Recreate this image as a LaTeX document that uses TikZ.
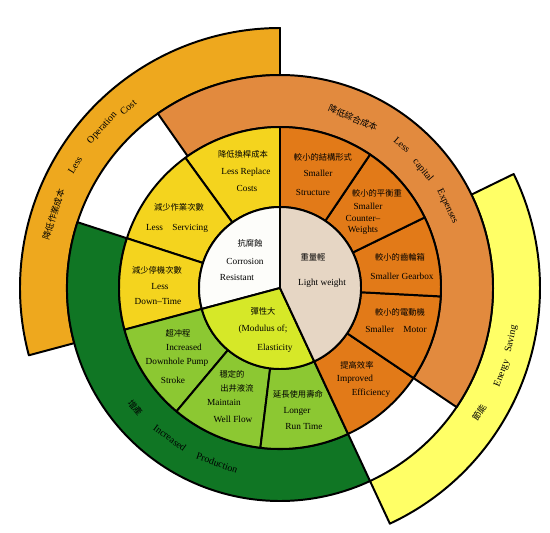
\documentclass[tikz,border=0pt]{standalone}
\usepackage{fontspec}
\setmainfont{Liberation Serif}
\newfontfamily\cjk{Noto Sans CJK TC}
\usepackage{tikz}
\definecolor{costOrange}{RGB}{238,168,30}
\definecolor{energyYellow}{RGB}{255,255,102}
\definecolor{capitalOrange}{RGB}{226,138,62}
\definecolor{prodGreen}{RGB}{16,118,36}
\definecolor{cellYellow}{RGB}{244,212,30}
\definecolor{cellGreen}{RGB}{140,200,50}
\definecolor{cellOrange}{RGB}{226,122,24}
\definecolor{coreWhite}{RGB}{253,253,250}
\definecolor{coreLime}{RGB}{214,232,40}
\definecolor{coreBeige}{RGB}{230,214,196}
% annular sector: colour, from, to, inner radius, outer radius
\newcommand{\ringpart}[5]{%
  \filldraw[sector,fill=#1] (#2:#4) -- (#2:#5) arc[start angle=#2, end angle=#3, radius=#5]
    -- (#3:#4) arc[start angle=#3, end angle=#2, radius=#4] -- cycle;}
% pie sector: colour, from, to, radius
\newcommand{\piepart}[4]{%
  \filldraw[sector,fill=#1] (0,0) -- (#2:#4) arc[start angle=#2, end angle=#3, radius=#4] -- cycle;}
\begin{document}
\begin{tikzpicture}[scale=0.025,
    sector/.style={draw=black, line width=1.4pt, line join=round},
    en/.style={font=\fontsize{6.6}{7}\selectfont, inner sep=0pt},
    zh/.style={font=\cjk\fontsize{5.9}{7}\selectfont, inner sep=0pt},
    outen/.style={font=\fontsize{7}{8}\selectfont, inner sep=0pt},
    outzh/.style={font=\cjk\fontsize{6.2}{7}\selectfont, inner sep=0pt}]
  \useasboundingbox (-280,-244) rectangle (270,288);
  % --- outer bands ---
  \ringpart{costOrange}{90}{195}{213}{260}
  \ringpart{energyYellow}{295}{386}{213}{260}
  % --- third ring ---
  \ringpart{capitalOrange}{326}{485}{161}{213}
  \ringpart{prodGreen}{162}{295}{161}{213}
  % --- second ring ---
  \ringpart{cellYellow}{90}{126}{81}{161}
  \ringpart{cellYellow}{126}{162}{81}{161}
  \ringpart{cellYellow}{162}{195}{81}{161}
  \ringpart{cellGreen}{195}{230}{81}{161}
  \ringpart{cellGreen}{230}{263}{81}{161}
  \ringpart{cellGreen}{263}{295}{81}{161}
  \ringpart{cellOrange}{295}{326}{81}{161}
  \ringpart{cellOrange}{326}{357}{81}{161}
  \ringpart{cellOrange}{357}{386}{81}{161}
  \ringpart{cellOrange}{386}{416}{81}{161}
  \ringpart{cellOrange}{416}{450}{81}{161}
  % --- core ---
  \piepart{coreWhite}{90}{195}{81}
  \piepart{coreLime}{195}{295}{81}
  \piepart{coreBeige}{295}{450}{81}
  % Core labels
  \node[zh] (cr1) at (-30,45) {抗腐蝕};
  \node[en] (cr2) at (-35,27) {Corrosion};
  \node[en] (cr3) at (-43,11) {Resistant};
  \node[zh] (lw1) at (33,31) {重量輕};
  \node[en] (lw2) at (42,5) {Light weight};
  \node[zh] (me1) at (-17,-23) {彈性大};
  \node[en] (me2) at (-17,-41) {(Modulus of;};
  \node[en] (me3) at (-5,-60) {Elasticity};
  % Second ring labels
  \node[zh] (rc1) at (-37,134) {降低換桿成本};
  \node[en] (rc2) at (-34,116) {Less Replace};
  \node[en] (rc3) at (-33,100) {Costs};
  \node[zh] (ls1) at (-101,81) {減少作業次數};
  \node[en] (ls2) at (-103,60) {Less\quad Servicing};
  \node[zh] (ld1) at (-123,18) {減少停機次數};
  \node[en] (ld2) at (-120,1) {Less};
  \node[en] (ld3) at (-122,-13) {Down–Time};
  \node[zh] (ps1) at (-102,-45) {超冲程};
  \node[en] (ps2) at (-96,-59) {Increased};
  \node[en] (ps3) at (-103,-74) {Downhole Pump};
  \node[en] (ps4) at (-107,-92) {Stroke};
  \node[zh] (wf1) at (-48,-86) {穩定的};
  \node[zh] (wf2) at (-43,-100) {出井液流};
  \node[en] (wf3) at (-56,-114) {Maintain};
  \node[en] (wf4) at (-47,-131) {Well Flow};
  \node[zh] (rt1) at (18,-106) {延長使用壽命};
  \node[en] (rt2) at (17,-123) {Longer};
  \node[en] (rt3) at (24,-138) {Run Time};
  \node[zh] (ss1) at (43,131) {較小的結構形式};
  \node[en] (ss2) at (38,115) {Smaller};
  \node[en] (ss3) at (33,96) {Structure};
  \node[zh] (sc1) at (97,95) {較小的平衡重};
  \node[en] (sc2) at (88,82) {Smaller};
  \node[en] (sc3) at (83,70) {Counter–};
  \node[en] (sc4) at (83,58) {Weights};
  \node[zh] (sg1) at (120,31) {較小的齒輪箱};
  \node[en] (sg2) at (122,12) {Smaller Gearbox};
  \node[zh] (sm1) at (120,-24) {較小的電動機};
  \node[en] (sm2) at (116,-41) {Smaller\quad Motor};
  \node[zh] (ie1) at (77,-77) {提高效率};
  \node[en] (ie2) at (75,-91) {Improved};
  \node[en] (ie3) at (91,-105) {Efficiency};
  % Third ring labels (along the arcs)
  \node[outzh, rotate=-23.2] (ce1) at (66.8:185) {降低綜合成本};
  \node[outen, rotate=-40.5] (ce2) at (49.5:188) {Less};
  \node[outen, rotate=-50.5] (ce3) at (39.5:185) {capital};
  \node[outen, rotate=-64] (ce4) at (26:186) {Expenses};
  \node[outzh, rotate=309.6] (ip1) at (219.6:188) {增產};
  \node[outen, rotate=323.7] (ip2) at (233.7:186) {Increased};
  \node[outen, rotate=340.2] (ip3) at (250.2:186) {Production};
  % Outer band labels
  \node[outzh, rotate=72] (oc1) at (162:238) {降低作業成本};
  \node[outen, rotate=59] (oc2) at (149:239) {Less};
  \node[outen, rotate=48] (oc3) at (138:239) {Operation};
  \node[outen, rotate=40] (oc4) at (130:236) {Cost};
  \node[outzh, rotate=58] (es1) at (-32:235) {節能};
  \node[outen, rotate=69] (es2) at (-21:238) {Energy};
  \node[outen, rotate=77.6] (es3) at (-12.4:237) {Saving};
\end{tikzpicture}
\end{document}
